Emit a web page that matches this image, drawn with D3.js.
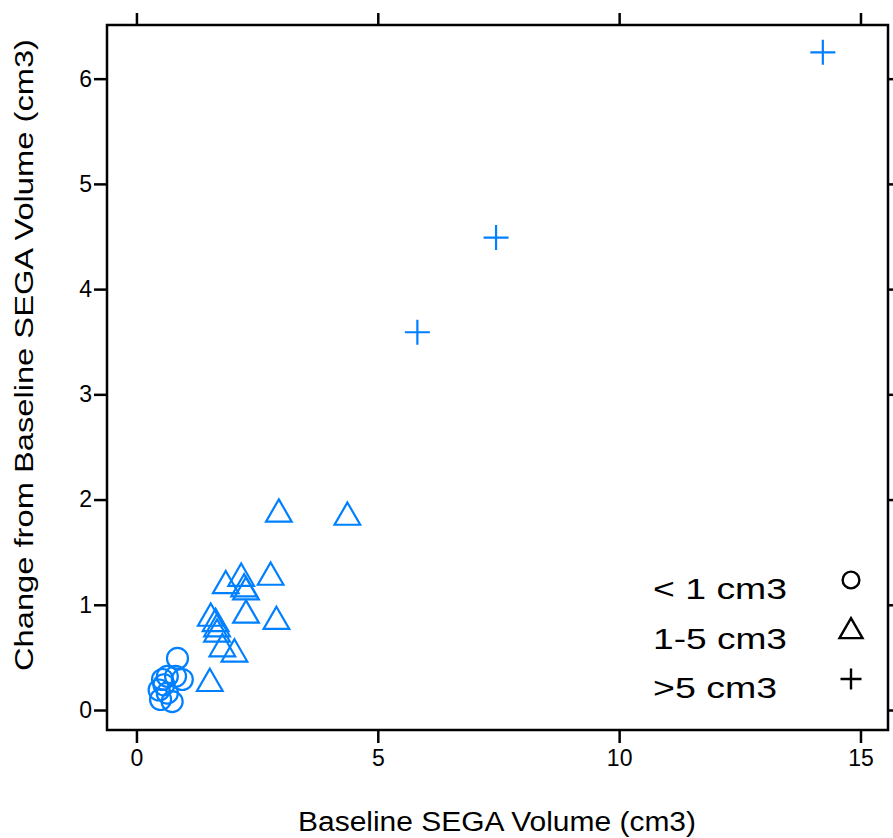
<!DOCTYPE html>
<html>
<head>
<meta charset="utf-8">
<script src="https://cdn.jsdelivr.net/npm/d3@7"></script>
<style>
  body { margin: 0; background: #fff; }
  text { font-family: "Liberation Sans", Arial, sans-serif; fill: #000; }
</style>
</head>
<body>
<script>
// baseline volume (x) and change from baseline (y), one pair of arrays per group
const small_x = [0.85, 0.64, 0.95, 0.54, 0.81, 0.47, 0.50, 0.74, 0.64, 0.57];
const small_y = [0.49, 0.32, 0.29, 0.29, 0.32, 0.19, 0.10, 0.08, 0.16, 0.24];
const mid_x = [2.95, 4.37, 2.78, 1.85, 2.17, 2.23, 2.27, 2.27, 2.90, 1.54, 1.64, 1.67, 1.67, 1.78, 2.03, 1.52];
const mid_y = [1.88, 1.85, 1.28, 1.20, 1.27, 1.17, 1.14, 0.92, 0.86, 0.89, 0.84, 0.79, 0.74, 0.60, 0.55, 0.27];
const big_x = [14.22, 7.45, 5.82];
const big_y = [6.25, 4.49, 3.59];

const x_ticks = [0, 5, 10, 15];
const y_ticks = [0, 1, 2, 3, 4, 5, 6];
const legend_labels = ["< 1 cm3", "1-5 cm3", ">5 cm3"];
const x_title = "Baseline SEGA Volume (cm3)";
const y_title = "Change from Baseline SEGA Volume (cm3)";

const total_width = 893, total_height = 838;
const margin = { top: 25, right: 5, bottom: 108, left: 107 };
const graph_width = total_width - margin.left - margin.right;
const graph_height = total_height - margin.top - margin.bottom;
const blue = "#0080ff";

const svg = d3.select("body").append("svg")
    .attr("width", total_width)
    .attr("height", total_height);

const inner = svg.append("g")
    .attr("transform", "translate(" + margin.left + "," + margin.top + ")");

const x = d3.scaleLinear().domain([-0.61, 15.57]).range([0, graph_width]);
const y = d3.scaleLinear().domain([-0.19, 6.51]).range([graph_height, 0]);

// axes, lattice style: ticks on all four sides, labels left and bottom
function style_axis(g) {
    g.select(".domain").remove();
    g.selectAll(".tick line").attr("stroke", "#000").attr("stroke-width", 2.5);
    g.selectAll(".tick text").style("font-size", "23px").attr("fill", "#000");
}
inner.append("g")
    .attr("transform", "translate(0," + graph_height + ")")
    .call(d3.axisBottom(x).tickValues(x_ticks).tickSize(13).tickPadding(7).tickFormat(d3.format("d")))
    .call(style_axis);
inner.append("g")
    .call(d3.axisTop(x).tickValues(x_ticks).tickSize(12).tickFormat(""))
    .call(style_axis);
inner.append("g")
    .call(d3.axisLeft(y).tickValues(y_ticks).tickSize(13).tickPadding(2).tickFormat(d3.format("d")))
    .call(style_axis);
inner.append("g")
    .attr("transform", "translate(" + graph_width + ",0)")
    .call(d3.axisRight(y).tickValues(y_ticks).tickSize(12).tickFormat(""))
    .call(style_axis);

inner.append("rect")
    .attr("width", graph_width)
    .attr("height", graph_height)
    .attr("fill", "none")
    .attr("stroke", "#000")
    .attr("stroke-width", 2.5);

// symbols
const tri = d3.symbol().type(d3.symbolTriangle).size(285);
const plus_path = s => "M" + (-s) + ",0H" + s + "M0," + (-s) + "V" + s;

const pts = inner.append("g").attr("fill", "none").attr("stroke", blue).attr("stroke-width", 2.2);
small_x.forEach((v, i) => {
    pts.append("circle").attr("cx", x(v)).attr("cy", y(small_y[i])).attr("r", 10.5);
});
mid_x.forEach((v, i) => {
    pts.append("path").attr("d", tri)
        .attr("transform", "translate(" + x(v) + "," + (y(mid_y[i]) + 2) + ")");
});
big_x.forEach((v, i) => {
    pts.append("path").attr("d", plus_path(12.5))
        .attr("transform", "translate(" + x(v) + "," + y(big_y[i]) + ")");
});

// legend
const legend = svg.append("g");
const leg_tri = d3.symbol().type(d3.symbolTriangle).size(230);
const legend_len = [134, 134, 124];
legend_labels.forEach((lab, i) => {
    const cy = 588 + i * 49.5;
    legend.append("text")
        .attr("x", 653).attr("y", cy + 11)
        .attr("textLength", legend_len[i])
        .attr("lengthAdjust", "spacingAndGlyphs")
        .style("font-size", "30px")
        .text(lab);
    const sym = legend.append("path")
        .attr("fill", "none").attr("stroke", "#000").attr("stroke-width", 2.4)
        .attr("transform", "translate(851," + (cy - 8 + (i === 1 ? 2 : 0)) + ")");
    if (i === 0) sym.attr("d", d3.symbol().type(d3.symbolCircle).size(220)());
    else if (i === 1) sym.attr("d", leg_tri());
    else sym.attr("d", plus_path(10.5));
});

// axis titles
svg.append("text")
    .attr("x", 497)
    .attr("y", 831)
    .attr("text-anchor", "middle")
    .attr("textLength", 398)
    .attr("lengthAdjust", "spacingAndGlyphs")
    .style("font-size", "27px")
    .text(x_title);
svg.append("text")
    .attr("transform", "translate(33,355) rotate(-90)")
    .attr("text-anchor", "middle")
    .attr("textLength", 632)
    .attr("lengthAdjust", "spacingAndGlyphs")
    .style("font-size", "26px")
    .text(y_title);
</script>
</body>
</html>
